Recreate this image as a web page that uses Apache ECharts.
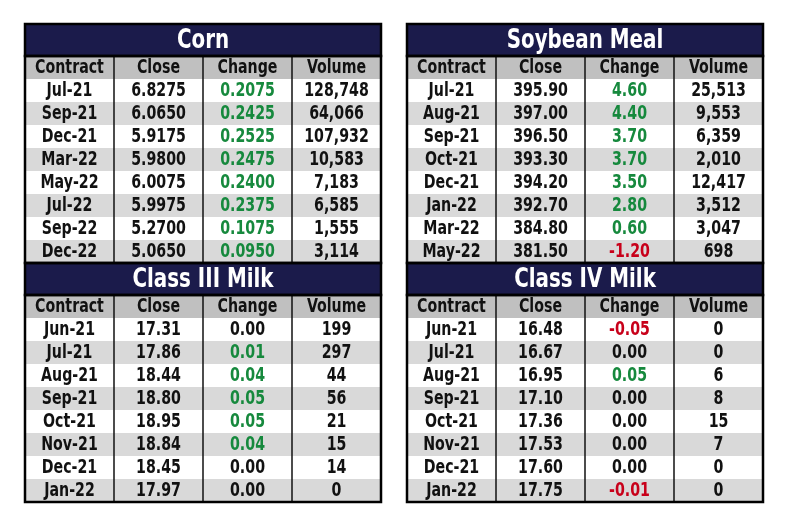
<!DOCTYPE html>
<html>
<head>
<meta charset="utf-8">
<script src="https://cdn.jsdelivr.net/npm/echarts@6/dist/echarts.min.js"></script>
<style>
  html, body { margin: 0; padding: 0; background: #fff; }
  #chart { width: 789px; height: 527px; }
</style>
</head>
<body>
<div id="chart"></div>
<script>
const columns = ['Contract', 'Close', 'Change', 'Volume'];

// Corn
const cornContracts = ['Jul-21', 'Sep-21', 'Dec-21', 'Mar-22', 'May-22', 'Jul-22', 'Sep-22', 'Dec-22'];
const cornClose = [6.8275, 6.0650, 5.9175, 5.9800, 6.0075, 5.9975, 5.2700, 5.0650];
const cornChange = [0.2075, 0.2425, 0.2525, 0.2475, 0.2400, 0.2375, 0.1075, 0.0950];
const cornVolume = [128748, 64066, 107932, 10583, 7183, 6585, 1555, 3114];

// Soybean Meal
const mealContracts = ['Jul-21', 'Aug-21', 'Sep-21', 'Oct-21', 'Dec-21', 'Jan-22', 'Mar-22', 'May-22'];
const mealClose = [395.90, 397.00, 396.50, 393.30, 394.20, 392.70, 384.80, 381.50];
const mealChange = [4.60, 4.40, 3.70, 3.70, 3.50, 2.80, 0.60, -1.20];
const mealVolume = [25513, 9553, 6359, 2010, 12417, 3512, 3047, 698];

// Class III Milk
const milk3Contracts = ['Jun-21', 'Jul-21', 'Aug-21', 'Sep-21', 'Oct-21', 'Nov-21', 'Dec-21', 'Jan-22'];
const milk3Close = [17.31, 17.86, 18.44, 18.80, 18.95, 18.84, 18.45, 17.97];
const milk3Change = [0.00, 0.01, 0.04, 0.05, 0.05, 0.04, 0.00, 0.00];
const milk3Volume = [199, 297, 44, 56, 21, 15, 14, 0];

// Class IV Milk
const milk4Contracts = ['Jun-21', 'Jul-21', 'Aug-21', 'Sep-21', 'Oct-21', 'Nov-21', 'Dec-21', 'Jan-22'];
const milk4Close = [16.48, 16.67, 16.95, 17.10, 17.36, 17.53, 17.60, 17.75];
const milk4Change = [-0.05, 0.00, 0.05, 0.00, 0.00, 0.00, 0.00, -0.01];
const milk4Volume = [0, 0, 6, 8, 15, 7, 0, 0];

const FONT = "'DejaVu Sans Condensed', 'DejaVu Sans', sans-serif";
const NAVY = '#1b1b4b';
const HEAD = '#c0c0c0';
const STRIPE = '#d9d9d9';
const INK = '#111111';
const GREEN = '#16893d';
const RED = '#c8001a';

const grids = [], xAxes = [], yAxes = [], series = [];

// text squeezed horizontally, the reference uses a condensed face
function label(text, cx, cy, size, color, squeeze) {
  return {
    type: 'text', scaleX: squeeze, originX: cx, originY: cy,
    style: { text: text, x: cx, y: cy + 1, align: 'center', verticalAlign: 'middle',
      fill: color, font: 'bold ' + size + 'px ' + FONT }
  };
}

function addTable(name, left, top, contracts, close, change, volume, dec) {
  const width = 356, titleH = 32, rowH = 23;
  const rows = ['head'].concat(contracts);

  // title band
  let gi = grids.length;
  grids.push({ left: left, top: top, width: width, height: titleH, show: true,
    borderColor: '#000', borderWidth: 2.5, backgroundColor: 'transparent', z: 5 });
  xAxes.push({ type: 'category', gridIndex: gi, data: [name], show: false });
  yAxes.push({ type: 'category', gridIndex: gi, data: [name], show: false });
  series.push({
    type: 'custom', xAxisIndex: gi, yAxisIndex: gi, data: [[0, 0]], silent: true,
    renderItem: function (params, api) {
      const c = api.coord([0, 0]);
      const s = api.size([1, 1]);
      return { type: 'group', children: [
        { type: 'rect', shape: { x: c[0] - s[0] / 2, y: c[1] - s[1] / 2, width: s[0], height: s[1] },
          style: { fill: NAVY } },
        label(name, c[0], c[1], 26, '#fff', 0.85)
      ] };
    }
  });

  // body
  gi = grids.length;
  grids.push({ left: left, top: top + titleH, width: width, height: rowH * rows.length, show: true,
    borderColor: '#000', borderWidth: 2.5, backgroundColor: 'transparent', z: 5 });
  xAxes.push({ type: 'category', gridIndex: gi, data: columns, show: false });
  yAxes.push({ type: 'category', gridIndex: gi, data: rows, inverse: true, show: false });

  const cells = [];
  columns.forEach(function (col, c) {
    cells.push({ pos: [c, 0], text: col, bg: HEAD, color: INK });
  });
  contracts.forEach(function (ct, i) {
    const bg = i % 2 === 0 ? '#ffffff' : STRIPE;
    const ch = change[i];
    const chColor = ch > 0 ? GREEN : (ch < 0 ? RED : INK);
    cells.push({ pos: [0, i + 1], text: ct, bg: bg, color: INK });
    cells.push({ pos: [1, i + 1], text: close[i].toFixed(dec), bg: bg, color: INK });
    cells.push({ pos: [2, i + 1], text: ch.toFixed(dec), bg: bg, color: chColor });
    cells.push({ pos: [3, i + 1], text: volume[i].toLocaleString('en-US'), bg: bg, color: INK });
  });

  series.push({
    type: 'custom', xAxisIndex: gi, yAxisIndex: gi, silent: true,
    data: cells.map(function (d) { return d.pos; }),
    renderItem: function (params, api) {
      const cell = cells[params.dataIndex];
      const c = api.coord([api.value(0), api.value(1)]);
      const s = api.size([1, 1]);
      const x = c[0] - s[0] / 2, y = c[1] - s[1] / 2;
      const children = [
        { type: 'rect', shape: { x: x, y: y, width: s[0], height: s[1] }, style: { fill: cell.bg } },
        label(cell.text, c[0], c[1], 19, cell.color, 0.83)
      ];
      if (api.value(0) > 0) {
        children.push({ type: 'line', shape: { x1: x, y1: y, x2: x, y2: y + s[1] },
          style: { stroke: '#111', lineWidth: 1.5 } });
      }
      return { type: 'group', children: children };
    }
  });
}

addTable('Corn', 25, 24, cornContracts, cornClose, cornChange, cornVolume, 4);
addTable('Class III Milk', 25, 263, milk3Contracts, milk3Close, milk3Change, milk3Volume, 2);
addTable('Soybean Meal', 407, 24, mealContracts, mealClose, mealChange, mealVolume, 2);
addTable('Class IV Milk', 407, 263, milk4Contracts, milk4Close, milk4Change, milk4Volume, 2);

const chart = echarts.init(document.getElementById('chart'));
chart.setOption({
  animation: false,
  grid: grids,
  xAxis: xAxes,
  yAxis: yAxes,
  series: series
});
</script>
</body>
</html>
